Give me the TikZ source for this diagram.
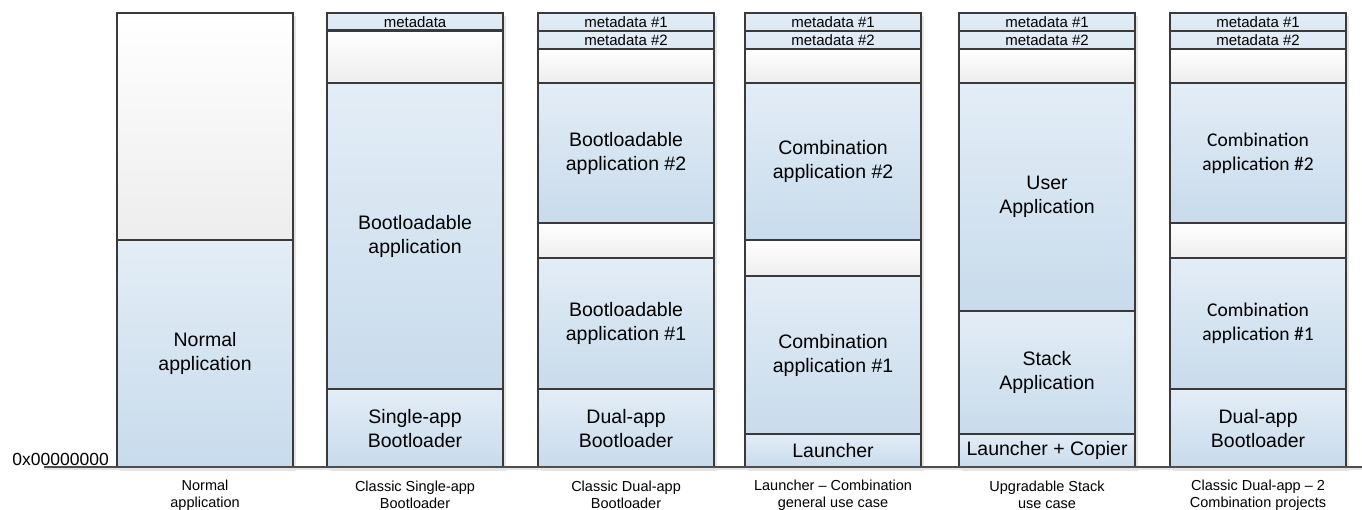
\documentclass[tikz,border=0pt]{standalone}
\usepackage{fontspec}
\setmainfont{Liberation Sans}
\newfontfamily\calibrifont{Carlito}
\usetikzlibrary{positioning}
\usetikzlibrary{shadows}

\definecolor{blueTop}{HTML}{E3EDF6}
\definecolor{blueBot}{HTML}{C8DBEC}
\definecolor{freeTop}{HTML}{FFFFFF}
\definecolor{freeBot}{HTML}{EDEDED}
\definecolor{rimgray}{HTML}{3A3A3A}

\tikzset{
  seg/.style={draw=rimgray, line width=2.1pt, anchor=north west, minimum width=176pt,
    inner sep=0pt, align=center,
    drop shadow={shadow xshift=3pt, shadow yshift=-3pt, fill=black!10, opacity=1}},
  meta/.style={seg, top color=blueTop, bottom color=blueTop!70!blueBot, font=\fontsize{15}{17}\selectfont},
  free/.style={seg, top color=freeTop, bottom color=freeBot},
  app/.style={seg, top color=blueTop, bottom color=blueBot, font=\fontsize{19.5}{24}\selectfont},
  appc/.style={app, font=\calibrifont\fontsize{19.5}{24}\selectfont},
  caption/.style={align=center, inner sep=0pt, font=\fontsize{14.5}{17}\selectfont},
}

\begin{document}
\begin{tikzpicture}[x=1pt, y=-1pt]
\useasboundingbox (0,0) rectangle (1362,510);

% Normal application
\foreach \yt/\yb/\kind/\txt [count=\k] in {
    12.3/239/free/{},
    239/466.7/app/{Normal\\application}} {
    \pgfmathsetmacro\h{\yb-\yt}
    \node[\kind, minimum height=\h pt] (c1s\k) at (116,\yt) {\txt};
}

% Classic single-app bootloader
\foreach \yt/\yb/\kind/\txt [count=\k] in {
    12.3/29.5/meta/{metadata},
    29.5/82.3/free/{},
    82.3/387.7/app/{Bootloadable\\application},
    387.7/466.7/app/{Single-app\\Bootloader}} {
    \pgfmathsetmacro\h{\yb-\yt}
    \node[\kind, minimum height=\h pt] (c2s\k) at (326,\yt) {\txt};
}

% Classic dual-app bootloader
\foreach \yt/\yb/\kind/\txt [count=\k] in {
    12.3/30/meta/{metadata \#1},
    30/47.7/meta/{metadata \#2},
    47.7/82.3/free/{},
    82.3/221.7/app/{Bootloadable\\application \#2},
    221.7/257.3/free/{},
    257.3/387.7/app/{Bootloadable\\application \#1},
    387.7/466.7/app/{Dual-app\\Bootloader}} {
    \pgfmathsetmacro\h{\yb-\yt}
    \node[\kind, minimum height=\h pt] (c3s\k) at (537,\yt) {\txt};
}

% Launcher with combination apps
\foreach \yt/\yb/\kind/\txt [count=\k] in {
    12.3/30/meta/{metadata \#1},
    30/47.7/meta/{metadata \#2},
    47.7/82.3/free/{},
    82.3/239/app/{Combination\\application \#2},
    239/275.3/free/{},
    275.3/432.7/app/{Combination\\application \#1},
    432.7/466.7/app/{Launcher}} {
    \pgfmathsetmacro\h{\yb-\yt}
    \node[\kind, minimum height=\h pt] (c4s\k) at (744,\yt) {\txt};
}

% Upgradable stack
\foreach \yt/\yb/\kind/\txt [count=\k] in {
    12.3/30/meta/{metadata \#1},
    30/47.7/meta/{metadata \#2},
    47.7/82.3/free/{},
    82.3/310/app/{User\\Application},
    310/432.7/app/{Stack\\Application},
    432.7/466.7/app/{Launcher + Copier}} {
    \pgfmathsetmacro\h{\yb-\yt}
    \node[\kind, minimum height=\h pt] (c5s\k) at (958,\yt) {\txt};
}

% Dual-app with two combination projects
\foreach \yt/\yb/\kind/\txt [count=\k] in {
    12.3/30/meta/{metadata \#1},
    30/47.7/meta/{metadata \#2},
    47.7/82.3/free/{},
    82.3/221.7/appc/{Combination\\application \#2},
    221.7/257.3/free/{},
    257.3/387.7/appc/{Combination\\application \#1},
    387.7/466.7/app/{Dual-app\\Bootloader}} {
    \pgfmathsetmacro\h{\yb-\yt}
    \node[\kind, minimum height=\h pt] (c6s\k) at (1169,\yt) {\txt};
}

% Address axis
\coordinate (axisL) at (44,466.7);
\coordinate (axisR) at (1362,466.7);
\draw[black!10, line width=2.5pt] ([yshift=-2.5pt]axisL) -- ([yshift=-2.5pt]axisR);
\draw[rimgray!90, line width=1.8pt] (axisL) -- (axisR);
\node[anchor=base east, inner sep=0pt, font=\fontsize{17.5}{20}\selectfont] (zero)
    at ([xshift=-7pt, yshift=3.5pt]c1s2.south west) {0x00000000};

% Captions
\node[caption] (cap1) at ([yshift=-26pt]c1s2.south) {Normal\\application};
\node[caption] (cap2) at ([yshift=-26pt]c2s4.south) {Classic Single-app\\Bootloader};
\node[caption] (cap3) at ([yshift=-26pt]c3s7.south) {Classic Dual-app\\Bootloader};
\node[caption] (cap4) at ([yshift=-26pt]c4s7.south) {Launcher -- Combination\\general use case};
\node[caption] (cap5) at ([yshift=-26pt]c5s6.south) {Upgradable Stack\\use case};
\node[caption] (cap6) at ([yshift=-26pt]c6s7.south) {Classic Dual-app -- 2\\Combination projects};

\end{tikzpicture}
\end{document}
